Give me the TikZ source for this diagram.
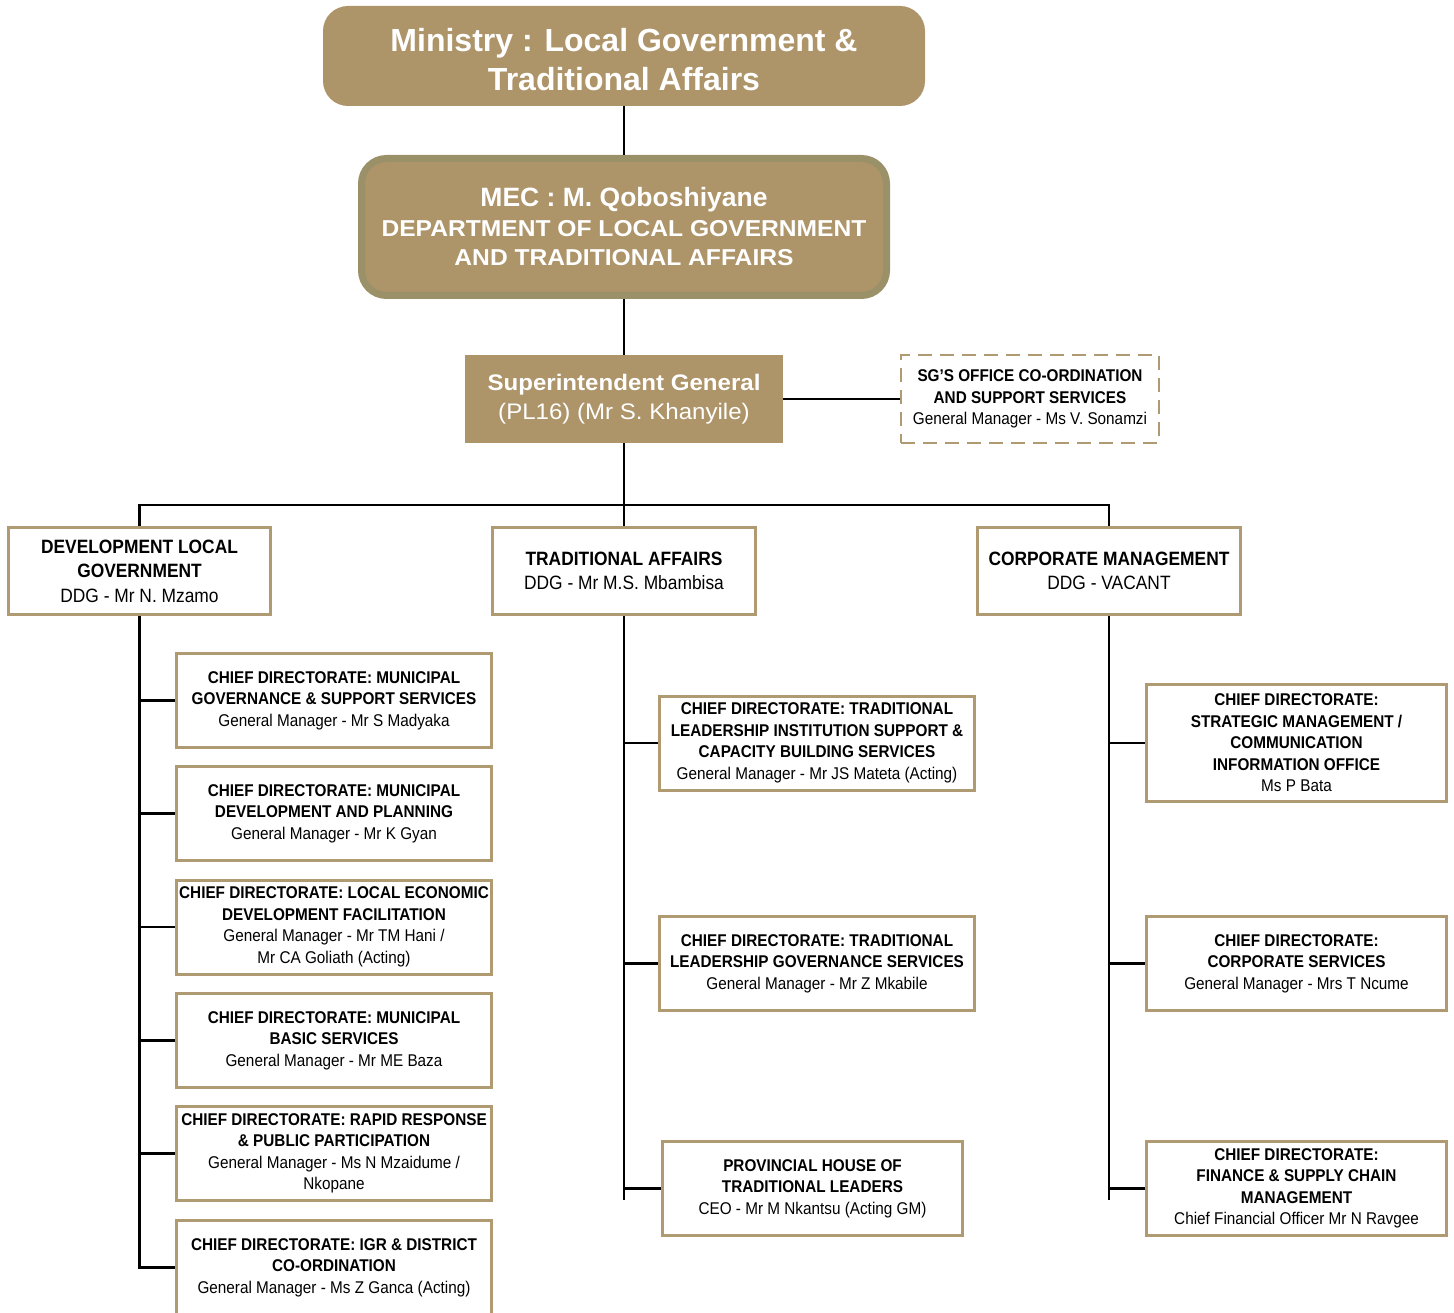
\documentclass[tikz,border=0pt]{standalone}
\usepackage{fontspec}
\setmainfont{Liberation Sans}[FakeStretch=0.9]
\newfontfamily\wideff{Liberation Sans}
\newfontfamily\xwide{Liberation Sans}[FakeStretch=1.07]
\definecolor{tanfill}{HTML}{AD9469}
\definecolor{mecline}{HTML}{9B9169}
\definecolor{boxline}{HTML}{B09A72}
\tikzset{
  tanbox/.style={fill=tanfill, draw=none, text=white, align=center, inner sep=0pt},
  wbox/.style={draw=boxline, line width=3pt, fill=white, align=center, inner sep=0pt,
    font=\fontsize{17}{21.5}\selectfont},
  dbox/.style={wbox, minimum width=315, minimum height=94},
  lvtwo/.style={wbox, minimum width=263, minimum height=87, font=\fontsize{19.3}{24.5}\selectfont},
  conn/.style={line width=2.6pt, black},
}
\begin{document}
\begin{tikzpicture}[x=1pt,y=-1pt]
\useasboundingbox (0,0) rectangle (1454,1313);
\clip (0,0) rectangle (1454,1313);
% top boxes
\node[tanbox, rounded corners=25pt, minimum width=602, minimum height=100] (min) at (624,56) {};
\node[text=white, align=center, inner sep=0pt, font=\wideff\fontsize{32}{39}\selectfont\bfseries] (mintext) at (min.center) [yshift=-4pt]
  {Ministry : Local Government \&\\Traditional Affairs};
\node[tanbox, draw=mecline, line width=7pt, rounded corners=25pt, minimum width=525, minimum height=137] (mec) at (624,227) {};
\node[text=white, align=center, inner sep=0pt, font=\xwide\fontsize{23}{29.5}\selectfont\bfseries] (mectext) at (mec.center)
  {{\wideff\bfseries\fontsize{26.5}{29.5}\selectfont MEC : M. Qoboshiyane}\\DEPARTMENT OF LOCAL GOVERNMENT\\AND TRADITIONAL AFFAIRS};
\node[tanbox, minimum width=318, minimum height=88,
  font=\xwide\fontsize{22.5}{29}\selectfont] (sg) at (624,399)
  {\textbf{Superintendent General}\\(PL16) (Mr S. Khanyile)};
\node[wbox, draw=boxline, dash pattern=on 14pt off 8pt, line width=2pt, minimum width=258, minimum height=87] (sgo) at (1030,399)
  {\textbf{SG'S OFFICE CO-ORDINATION}\\\textbf{AND SUPPORT SERVICES}\\General Manager - Ms V. Sonamzi};
% level 2
\node[lvtwo, minimum width=262] (dlg) at (139.5,571)
  {\textbf{DEVELOPMENT LOCAL}\\\textbf{GOVERNMENT}\\DDG - Mr N. Mzamo};
\node[lvtwo] (ta) at (624,571)
  {\textbf{TRADITIONAL AFFAIRS}\\DDG - Mr M.S. Mbambisa};
\node[lvtwo] (cm) at (1109,571)
  {\textbf{CORPORATE MANAGEMENT}\\DDG - VACANT};
% left column
\node[dbox] (l1) at (334,700.5)
  {\textbf{CHIEF DIRECTORATE: MUNICIPAL}\\\textbf{GOVERNANCE \& SUPPORT SERVICES}\\General Manager - Mr S Madyaka};
\node[dbox] (l2) at (334,813.5)
  {\textbf{CHIEF DIRECTORATE: MUNICIPAL}\\\textbf{DEVELOPMENT AND PLANNING}\\General Manager - Mr K Gyan};
\node[dbox] (l3) at (334,927)
  {\textbf{CHIEF DIRECTORATE: LOCAL ECONOMIC}\\\textbf{DEVELOPMENT FACILITATION}\\General Manager - Mr TM Hani /\\Mr CA Goliath (Acting)};
\node[dbox] (l4) at (334,1040.5)
  {\textbf{CHIEF DIRECTORATE: MUNICIPAL}\\\textbf{BASIC SERVICES}\\General Manager - Mr ME Baza};
\node[dbox] (l5) at (334,1153.5)
  {\textbf{CHIEF DIRECTORATE: RAPID RESPONSE}\\\textbf{\& PUBLIC PARTICIPATION}\\General Manager - Ms N Mzaidume /\\Nkopane};
\node[dbox] (l6) at (334,1267.5)
  {\textbf{CHIEF DIRECTORATE: IGR \& DISTRICT}\\\textbf{CO-ORDINATION}\\General Manager - Ms Z Ganca (Acting)};
% middle column
\node[dbox] (m1) at (817,743)
  {\textbf{CHIEF DIRECTORATE: TRADITIONAL}\\\textbf{LEADERSHIP INSTITUTION SUPPORT \&}\\\textbf{CAPACITY BUILDING SERVICES}\\General Manager - Mr JS Mateta (Acting)};
\node[dbox] (m2) at (817,963.5)
  {\textbf{CHIEF DIRECTORATE: TRADITIONAL}\\\textbf{LEADERSHIP GOVERNANCE SERVICES}\\General Manager - Mr Z Mkabile};
\node[wbox, minimum width=300, minimum height=94] (m3) at (812.5,1188.5)
  {\textbf{PROVINCIAL HOUSE OF}\\\textbf{TRADITIONAL LEADERS}\\CEO - Mr M Nkantsu (Acting GM)};
% right column
\node[wbox, minimum width=300, minimum height=117] (r1) at (1296.5,743)
  {\textbf{CHIEF DIRECTORATE:}\\\textbf{STRATEGIC MANAGEMENT /}\\\textbf{COMMUNICATION}\\\textbf{INFORMATION OFFICE}\\Ms P Bata};
\node[wbox, minimum width=300, minimum height=94] (r2) at (1296.5,963.5)
  {\textbf{CHIEF DIRECTORATE:}\\\textbf{CORPORATE SERVICES}\\General Manager - Mrs T Ncume};
\node[wbox, minimum width=300, minimum height=94] (r3) at (1296.5,1188.5)
  {\textbf{CHIEF DIRECTORATE:}\\\textbf{FINANCE \& SUPPLY CHAIN}\\\textbf{MANAGEMENT}\\Chief Financial Officer Mr N Ravgee};
% connectors
\coordinate (bus) at (624,505);
\coordinate (mend) at (624,1200);
\coordinate (rend) at (cm.south |- mend);
\draw[conn] (min.south) -- (mec.north);
\draw[conn] (mec.south) -- (sg.north);
\draw[conn] (sg.south) -- (ta.north);
\draw[conn] (sg.east) -- (sgo.west);
\draw[conn] (dlg.north) -- (dlg.north |- bus) -- (cm.north |- bus) -- (cm.north);
\draw[conn] (dlg.south) -- (dlg.south |- l6.west) -- (l6.west);
\foreach \n in {l1,l2,l3,l4,l5} \draw[conn] (dlg.south |- \n.west) -- (\n.west);
\draw[conn] (ta.south) -- (mend);
\foreach \n in {m1,m2,m3} \draw[conn] (ta.south |- \n.west) -- (\n.west);
\draw[conn] (cm.south) -- (rend);
\foreach \n in {r1,r2,r3} \draw[conn] (rend |- \n.west) -- (\n.west);
\end{tikzpicture}
\end{document}
